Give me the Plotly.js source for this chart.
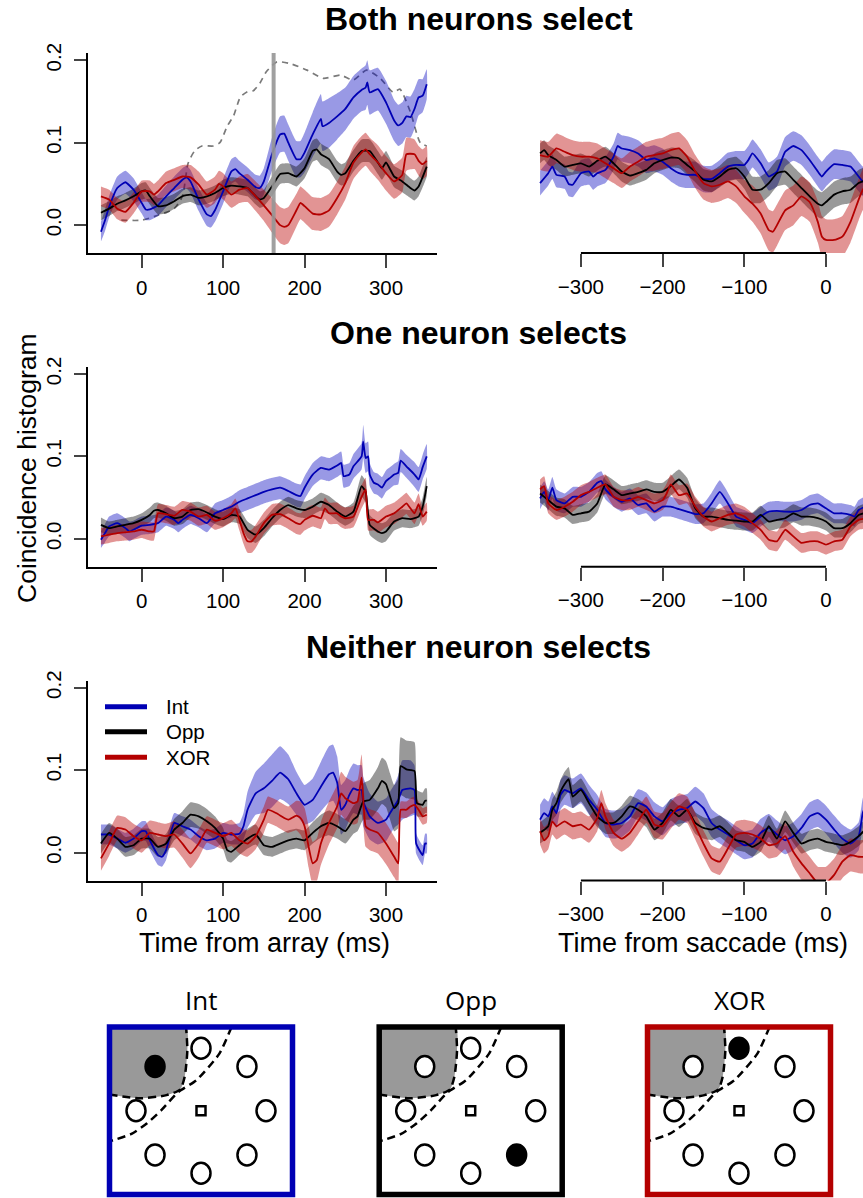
<!DOCTYPE html>
<html><head><meta charset="utf-8">
<script src="https://cdn.plot.ly/plotly-3.0.1.min.js"></script>
<style>html,body{margin:0;padding:0;background:#fff}</style>
</head><body><div id="chart" style="width:863px;height:1198px"></div>
<script>
// ---------- DATA: rows are [time ms, mean, s.e.] ----------
const bothArrInt = [[-50,-0.008,0.012],[-45,0.006,0.013],[-40,0.022,0.013],[-30,0.045,0.014],[-20,0.052,0.014],[-10,0.043,0.014],[0,0.027,0.013],[5,0.019,0.013],[10,0.019,0.013],[20,0.024,0.013],[30,0.035,0.013],[40,0.045,0.014],[50,0.055,0.014],[55,0.058,0.014],[60,0.053,0.014],[70,0.031,0.014],[80,0.013,0.014],[85,0.011,0.014],[90,0.018,0.014],[100,0.041,0.015],[110,0.065,0.015],[115,0.068,0.015],[120,0.063,0.015],[130,0.055,0.015],[140,0.046,0.015],[145,0.045,0.015],[150,0.053,0.016],[160,0.086,0.02],[170,0.110,0.022],[175,0.111,0.022],[180,0.100,0.022],[190,0.080,0.022],[195,0.080,0.022],[200,0.088,0.024],[210,0.110,0.027],[220,0.129,0.03],[222,0.120,0.03],[230,0.124,0.03],[240,0.132,0.028],[250,0.141,0.026],[260,0.155,0.026],[270,0.164,0.026],[275,0.167,0.027],[277,0.173,0.027],[280,0.161,0.027],[290,0.165,0.026],[300,0.149,0.026],[310,0.127,0.025],[315,0.121,0.025],[320,0.124,0.025],[325,0.132,0.025],[330,0.131,0.025],[335,0.141,0.024],[340,0.155,0.022],[345,0.157,0.02],[350,0.171,0.018]];
const bothArrOpp = [[-50,0.015,0.009],[-40,0.020,0.009],[-30,0.026,0.009],[-20,0.030,0.009],[-10,0.035,0.009],[0,0.041,0.01],[5,0.042,0.01],[10,0.035,0.01],[20,0.023,0.01],[30,0.024,0.01],[40,0.029,0.009],[50,0.035,0.009],[60,0.037,0.009],[70,0.033,0.009],[80,0.035,0.009],[90,0.039,0.009],[100,0.045,0.01],[110,0.048,0.01],[120,0.047,0.01],[130,0.045,0.01],[140,0.035,0.01],[145,0.031,0.01],[150,0.033,0.01],[160,0.047,0.012],[170,0.062,0.012],[180,0.063,0.012],[190,0.059,0.012],[200,0.069,0.012],[210,0.090,0.013],[215,0.092,0.013],[220,0.086,0.013],[230,0.080,0.013],[240,0.065,0.013],[245,0.061,0.013],[250,0.063,0.013],[260,0.078,0.013],[270,0.090,0.014],[280,0.090,0.014],[290,0.076,0.014],[295,0.069,0.014],[300,0.076,0.014],[310,0.059,0.013],[320,0.053,0.013],[330,0.045,0.012],[335,0.042,0.012],[340,0.047,0.012],[350,0.071,0.012]];
const bothArrXor = [[-50,0.035,0.012],[-40,0.031,0.012],[-30,0.020,0.013],[-20,0.016,0.013],[-10,0.027,0.013],[0,0.041,0.013],[10,0.041,0.013],[15,0.037,0.013],[20,0.041,0.013],[30,0.051,0.014],[40,0.055,0.014],[50,0.059,0.014],[60,0.058,0.015],[70,0.049,0.016],[80,0.037,0.016],[90,0.043,0.016],[95,0.050,0.016],[100,0.047,0.016],[110,0.037,0.016],[120,0.043,0.016],[130,0.045,0.017],[140,0.035,0.018],[150,0.024,0.019],[160,0.012,0.021],[170,0.000,0.022],[175,-0.002,0.022],[180,0.000,0.022],[190,0.018,0.02],[195,0.027,0.02],[200,0.023,0.02],[210,0.014,0.02],[220,0.013,0.02],[230,0.018,0.02],[240,0.033,0.02],[250,0.051,0.02],[260,0.076,0.02],[270,0.088,0.02],[275,0.092,0.02],[280,0.086,0.02],[290,0.076,0.021],[300,0.063,0.021],[310,0.053,0.021],[320,0.061,0.021],[325,0.086,0.02],[335,0.086,0.018],[340,0.078,0.018],[345,0.074,0.018],[350,0.078,0.018]];
// gray dashed reference curve, top-left panel: [time, value]
const bothArrRef = [[-25,0.006],[0,0.006],[20,0.012],[40,0.020],[50,0.035],[57,0.075],[65,0.090],[74,0.096],[88,0.096],[96,0.100],[105,0.120],[113,0.133],[121,0.155],[130,0.162],[137,0.163],[145,0.172],[153,0.186],[166,0.198],[182,0.196],[203,0.188],[223,0.178],[244,0.182],[260,0.176],[276,0.188],[293,0.178],[309,0.161],[317,0.165],[330,0.137],[342,0.100],[350,0.096]];
const markerTime = [162];

const bothSacInt = [[-350,0.051,0.015],[-340,0.063,0.015],[-335,0.071,0.015],[-330,0.061,0.015],[-320,0.059,0.015],[-315,0.050,0.015],[-310,0.049,0.015],[-300,0.063,0.016],[-290,0.065,0.016],[-285,0.059,0.016],[-280,0.063,0.016],[-270,0.067,0.016],[-260,0.083,0.016],[-255,0.096,0.016],[-250,0.093,0.016],[-240,0.091,0.016],[-230,0.087,0.016],[-220,0.079,0.016],[-210,0.081,0.016],[-200,0.077,0.016],[-190,0.069,0.016],[-180,0.063,0.016],[-170,0.061,0.016],[-160,0.061,0.016],[-150,0.056,0.016],[-140,0.056,0.016],[-130,0.063,0.016],[-120,0.071,0.017],[-110,0.073,0.017],[-100,0.073,0.017],[-95,0.079,0.017],[-90,0.087,0.017],[-80,0.075,0.017],[-70,0.059,0.017],[-60,0.065,0.018],[-50,0.089,0.018],[-40,0.096,0.018],[-30,0.091,0.018],[-20,0.079,0.018],[-10,0.065,0.018],[-5,0.059,0.018],[0,0.065,0.018],[10,0.074,0.018],[20,0.073,0.018],[30,0.071,0.018],[40,0.059,0.018],[45,0.053,0.018],[50,0.050,0.018]];
const bothSacOpp = [[-350,0.087,0.012],[-345,0.091,0.012],[-340,0.085,0.012],[-330,0.079,0.012],[-320,0.071,0.012],[-310,0.073,0.012],[-300,0.075,0.012],[-290,0.071,0.012],[-280,0.078,0.012],[-270,0.083,0.012],[-260,0.075,0.012],[-250,0.065,0.012],[-240,0.060,0.012],[-230,0.063,0.012],[-220,0.067,0.012],[-210,0.075,0.012],[-200,0.079,0.012],[-190,0.082,0.012],[-180,0.081,0.012],[-170,0.073,0.012],[-160,0.065,0.013],[-150,0.055,0.013],[-140,0.053,0.013],[-130,0.059,0.013],[-120,0.067,0.014],[-110,0.069,0.014],[-100,0.059,0.015],[-90,0.043,0.016],[-80,0.043,0.016],[-70,0.051,0.016],[-60,0.063,0.016],[-50,0.065,0.016],[-40,0.055,0.016],[-30,0.045,0.016],[-20,0.035,0.016],[-10,0.026,0.016],[-5,0.024,0.016],[0,0.028,0.016],[10,0.037,0.016],[20,0.041,0.016],[30,0.043,0.016],[40,0.051,0.016],[50,0.055,0.016]];
const bothSacXor = [[-350,0.085,0.018],[-340,0.083,0.018],[-330,0.093,0.018],[-320,0.089,0.018],[-310,0.085,0.018],[-300,0.083,0.018],[-290,0.083,0.018],[-280,0.081,0.018],[-270,0.075,0.018],[-260,0.069,0.018],[-250,0.063,0.018],[-240,0.071,0.018],[-230,0.077,0.018],[-220,0.083,0.018],[-210,0.085,0.019],[-200,0.087,0.019],[-190,0.091,0.02],[-180,0.093,0.02],[-170,0.083,0.02],[-160,0.065,0.02],[-150,0.051,0.02],[-140,0.047,0.02],[-130,0.049,0.02],[-120,0.053,0.02],[-110,0.047,0.02],[-100,0.035,0.02],[-90,0.026,0.022],[-80,0.014,0.024],[-70,-0.006,0.025],[-65,-0.008,0.025],[-60,0.000,0.025],[-50,0.018,0.024],[-40,0.024,0.024],[-30,0.035,0.024],[-20,0.028,0.024],[-10,0.004,0.025],[-5,-0.014,0.025],[0,-0.018,0.025],[10,-0.018,0.025],[20,-0.014,0.025],[30,0.004,0.025],[40,0.031,0.025],[45,0.043,0.025],[50,0.050,0.025]];

const oneArrInt = [[-50,-0.001,0.01],[-45,0.007,0.011],[-40,0.015,0.012],[-30,0.019,0.012],[-20,0.013,0.012],[-15,0.009,0.012],[-10,0.011,0.011],[0,0.016,0.011],[10,0.017,0.011],[20,0.019,0.011],[30,0.027,0.011],[40,0.023,0.011],[45,0.019,0.011],[50,0.023,0.011],[60,0.029,0.011],[70,0.025,0.011],[80,0.019,0.011],[90,0.031,0.012],[100,0.035,0.012],[110,0.039,0.013],[120,0.045,0.014],[130,0.049,0.014],[140,0.053,0.014],[150,0.057,0.014],[160,0.060,0.014],[170,0.062,0.014],[180,0.058,0.014],[190,0.053,0.014],[195,0.052,0.014],[200,0.062,0.014],[210,0.078,0.014],[220,0.086,0.014],[230,0.084,0.014],[240,0.089,0.014],[245,0.092,0.014],[248,0.076,0.014],[255,0.078,0.014],[260,0.088,0.015],[270,0.100,0.016],[272,0.118,0.02],[275,0.098,0.018],[278,0.100,0.018],[280,0.078,0.014],[285,0.068,0.013],[290,0.066,0.013],[295,0.062,0.013],[300,0.070,0.013],[305,0.074,0.013],[310,0.078,0.013],[315,0.080,0.014],[318,0.095,0.014],[325,0.088,0.014],[335,0.078,0.015],[340,0.072,0.015],[345,0.087,0.015],[350,0.100,0.015]];
const oneArrOpp = [[-50,0.017,0.009],[-40,0.013,0.008],[-30,0.015,0.008],[-20,0.017,0.008],[-10,0.019,0.008],[0,0.023,0.008],[10,0.029,0.009],[15,0.034,0.009],[20,0.035,0.009],[30,0.031,0.009],[40,0.025,0.009],[50,0.027,0.009],[60,0.035,0.009],[70,0.036,0.009],[80,0.032,0.009],[90,0.027,0.009],[100,0.024,0.009],[110,0.029,0.009],[120,0.027,0.009],[130,0.011,0.01],[140,0.005,0.01],[150,0.013,0.01],[160,0.025,0.01],[170,0.035,0.01],[180,0.041,0.01],[190,0.037,0.01],[200,0.035,0.01],[210,0.039,0.01],[220,0.045,0.011],[230,0.041,0.011],[240,0.033,0.011],[250,0.027,0.011],[260,0.033,0.011],[270,0.064,0.013],[275,0.057,0.013],[280,0.017,0.012],[290,0.009,0.012],[295,0.007,0.012],[300,0.009,0.012],[310,0.021,0.011],[320,0.025,0.011],[330,0.024,0.011],[340,0.027,0.011],[345,0.039,0.011],[350,0.064,0.011]];
const oneArrXor = [[-50,0.003,0.01],[-40,0.005,0.01],[-30,0.007,0.01],[-20,0.008,0.01],[-10,0.009,0.01],[0,0.011,0.01],[10,0.009,0.011],[15,0.009,0.011],[20,0.031,0.011],[30,0.030,0.011],[40,0.028,0.011],[50,0.035,0.011],[60,0.033,0.011],[70,0.027,0.011],[80,0.029,0.011],[90,0.022,0.011],[100,0.025,0.011],[110,0.031,0.011],[115,0.037,0.012],[120,0.023,0.013],[125,0.007,0.013],[130,-0.003,0.014],[135,-0.003,0.014],[140,0.003,0.014],[150,0.019,0.013],[160,0.029,0.013],[170,0.030,0.013],[180,0.025,0.013],[190,0.019,0.013],[195,0.018,0.013],[200,0.023,0.013],[210,0.028,0.013],[220,0.025,0.013],[225,0.037,0.013],[230,0.031,0.013],[240,0.031,0.013],[245,0.027,0.013],[250,0.025,0.013],[260,0.027,0.013],[270,0.051,0.014],[275,0.060,0.014],[278,0.023,0.013],[285,0.023,0.013],[290,0.020,0.013],[300,0.027,0.013],[310,0.031,0.013],[320,0.039,0.013],[325,0.043,0.013],[330,0.037,0.013],[335,0.031,0.013],[340,0.042,0.013],[345,0.027,0.011],[350,0.033,0.011]];

const oneSacInt = [[-350,0.049,0.013],[-345,0.057,0.013],[-340,0.047,0.013],[-335,0.062,0.013],[-330,0.047,0.013],[-320,0.043,0.012],[-310,0.051,0.012],[-300,0.051,0.012],[-290,0.057,0.012],[-280,0.068,0.012],[-275,0.070,0.012],[-270,0.060,0.012],[-260,0.051,0.012],[-250,0.045,0.012],[-240,0.049,0.012],[-230,0.041,0.012],[-220,0.043,0.012],[-210,0.033,0.012],[-200,0.039,0.012],[-190,0.039,0.012],[-180,0.036,0.012],[-170,0.033,0.012],[-160,0.030,0.012],[-150,0.031,0.012],[-140,0.043,0.013],[-130,0.057,0.014],[-120,0.043,0.013],[-110,0.027,0.012],[-100,0.023,0.012],[-90,0.019,0.012],[-80,0.027,0.012],[-70,0.033,0.012],[-60,0.034,0.012],[-50,0.033,0.012],[-40,0.033,0.012],[-30,0.035,0.012],[-20,0.041,0.012],[-10,0.043,0.012],[0,0.037,0.012],[10,0.031,0.012],[20,0.031,0.012],[30,0.029,0.012],[35,0.027,0.012],[40,0.035,0.012],[50,0.040,0.012]];
const oneSacOpp = [[-350,0.055,0.011],[-340,0.047,0.011],[-330,0.039,0.011],[-320,0.037,0.011],[-310,0.029,0.011],[-300,0.031,0.011],[-290,0.033,0.011],[-280,0.043,0.011],[-270,0.066,0.011],[-260,0.060,0.011],[-250,0.053,0.011],[-240,0.055,0.011],[-230,0.057,0.011],[-220,0.060,0.011],[-210,0.057,0.011],[-200,0.057,0.011],[-190,0.064,0.012],[-180,0.072,0.012],[-170,0.062,0.012],[-160,0.037,0.012],[-150,0.027,0.011],[-140,0.027,0.011],[-130,0.025,0.011],[-120,0.023,0.011],[-110,0.022,0.011],[-100,0.021,0.011],[-90,0.021,0.011],[-80,0.029,0.011],[-70,0.021,0.011],[-60,0.023,0.011],[-50,0.025,0.011],[-40,0.031,0.011],[-30,0.027,0.011],[-20,0.027,0.011],[-10,0.025,0.011],[0,0.021,0.011],[10,0.013,0.011],[20,0.013,0.011],[30,0.019,0.011],[40,0.029,0.011],[50,0.032,0.011]];
const oneSacXor = [[-350,0.060,0.012],[-345,0.064,0.012],[-340,0.043,0.012],[-330,0.035,0.012],[-320,0.039,0.012],[-310,0.045,0.012],[-300,0.053,0.012],[-290,0.057,0.012],[-280,0.062,0.012],[-270,0.066,0.012],[-260,0.051,0.012],[-250,0.047,0.012],[-240,0.047,0.012],[-230,0.051,0.012],[-220,0.047,0.012],[-210,0.043,0.012],[-200,0.047,0.012],[-195,0.055,0.012],[-190,0.066,0.012],[-180,0.053,0.012],[-170,0.055,0.012],[-160,0.039,0.012],[-150,0.027,0.012],[-140,0.021,0.012],[-130,0.025,0.012],[-120,0.029,0.012],[-110,0.031,0.012],[-100,0.027,0.012],[-90,0.019,0.012],[-80,0.011,0.012],[-70,-0.001,0.012],[-60,-0.003,0.012],[-50,0.011,0.012],[-40,0.003,0.012],[-30,-0.005,0.012],[-20,-0.003,0.012],[-10,-0.003,0.012],[0,-0.007,0.012],[10,-0.003,0.012],[20,-0.001,0.012],[30,0.015,0.012],[40,0.023,0.012],[50,0.025,0.012]];

const neitherArrInt = [[-50,0.022,0.012],[-40,0.022,0.012],[-30,0.017,0.012],[-20,0.012,0.012],[-10,0.017,0.012],[0,0.026,0.012],[5,0.026,0.012],[10,0.015,0.012],[20,-0.003,0.012],[25,-0.005,0.012],[30,0.003,0.012],[40,0.036,0.012],[50,0.032,0.012],[60,0.028,0.012],[70,0.020,0.012],[80,0.015,0.012],[90,0.017,0.012],[100,0.024,0.012],[110,0.022,0.012],[120,0.023,0.013],[125,0.032,0.016],[130,0.052,0.022],[140,0.072,0.026],[150,0.078,0.03],[160,0.087,0.032],[170,0.097,0.032],[180,0.089,0.03],[190,0.072,0.026],[200,0.058,0.024],[210,0.064,0.026],[220,0.080,0.03],[230,0.095,0.034],[235,0.097,0.034],[240,0.085,0.032],[245,0.052,0.03],[250,0.058,0.03],[255,0.070,0.03],[260,0.078,0.03],[265,0.076,0.03],[270,0.076,0.03],[272,0.062,0.03],[280,0.044,0.028],[290,0.036,0.026],[300,0.040,0.026],[305,0.048,0.026],[310,0.056,0.026],[315,0.064,0.03],[320,0.076,0.036],[330,0.078,0.034],[335,0.076,0.03],[337,0.011,0.012],[345,-0.003,0.012],[348,0.011,0.012],[350,0.011,0.012]];
const neitherArrOpp = [[-50,0.011,0.012],[-40,0.024,0.012],[-30,0.017,0.012],[-20,0.007,0.012],[-10,0.009,0.012],[0,0.017,0.012],[10,0.017,0.012],[20,0.007,0.012],[30,0.011,0.012],[40,0.028,0.013],[50,0.036,0.014],[60,0.046,0.015],[70,0.044,0.015],[80,0.038,0.015],[90,0.030,0.014],[100,0.017,0.013],[105,0.003,0.013],[110,0.001,0.013],[120,0.009,0.012],[130,0.017,0.012],[140,0.022,0.012],[150,0.009,0.012],[160,0.007,0.012],[170,0.011,0.012],[180,0.015,0.012],[190,0.017,0.012],[200,0.015,0.012],[210,0.024,0.013],[220,0.032,0.014],[230,0.036,0.015],[240,0.032,0.015],[250,0.026,0.015],[260,0.040,0.017],[265,0.044,0.018],[272,0.062,0.022],[280,0.064,0.024],[290,0.078,0.026],[295,0.087,0.028],[300,0.083,0.028],[305,0.068,0.028],[310,0.054,0.028],[315,0.060,0.03],[318,0.105,0.035],[325,0.101,0.035],[335,0.099,0.035],[338,0.060,0.016],[345,0.058,0.015],[348,0.063,0.015],[350,0.063,0.015]];
const neitherArrXor = [[-50,-0.007,0.015],[-40,0.011,0.015],[-30,0.030,0.015],[-20,0.028,0.015],[-10,0.020,0.015],[0,0.015,0.015],[10,0.024,0.015],[20,0.022,0.015],[30,0.020,0.015],[40,0.022,0.016],[50,0.011,0.017],[60,-0.001,0.018],[70,0.011,0.017],[80,0.028,0.016],[90,0.024,0.016],[100,0.020,0.016],[110,0.024,0.016],[120,0.015,0.016],[130,0.011,0.016],[140,0.020,0.016],[150,0.040,0.016],[155,0.052,0.016],[165,0.048,0.016],[175,0.042,0.016],[180,0.040,0.016],[190,0.045,0.018],[195,0.042,0.02],[200,0.032,0.022],[205,0.007,0.025],[210,-0.013,0.026],[215,-0.009,0.026],[220,0.011,0.026],[230,0.036,0.026],[240,0.056,0.026],[245,0.072,0.026],[250,0.066,0.026],[260,0.060,0.026],[265,0.062,0.026],[270,0.091,0.028],[275,0.032,0.025],[280,0.028,0.025],[290,0.024,0.025],[300,0.011,0.025],[310,-0.005,0.025],[315,-0.013,0.025],[318,0.052,0.01],[325,0.052,0.01],[330,0.056,0.01],[335,0.058,0.01],[340,0.052,0.01],[345,0.044,0.01],[350,0.046,0.01]];

const neitherSacInt = [[-350,0.040,0.018],[-345,0.048,0.018],[-340,0.044,0.018],[-335,0.056,0.018],[-330,0.048,0.018],[-325,0.070,0.018],[-320,0.076,0.018],[-310,0.072,0.018],[-300,0.078,0.018],[-290,0.064,0.018],[-280,0.052,0.018],[-270,0.036,0.017],[-260,0.034,0.017],[-250,0.036,0.017],[-240,0.044,0.017],[-230,0.060,0.017],[-220,0.056,0.017],[-210,0.044,0.017],[-200,0.038,0.017],[-190,0.048,0.017],[-180,0.052,0.017],[-170,0.054,0.017],[-160,0.062,0.018],[-150,0.054,0.018],[-140,0.036,0.017],[-130,0.028,0.017],[-120,0.022,0.017],[-110,0.015,0.017],[-100,0.009,0.017],[-90,0.011,0.017],[-80,0.024,0.017],[-70,0.030,0.017],[-60,0.022,0.017],[-50,0.015,0.017],[-40,0.020,0.017],[-30,0.030,0.017],[-20,0.044,0.017],[-10,0.048,0.017],[0,0.040,0.017],[10,0.028,0.017],[20,0.017,0.017],[30,0.011,0.017],[40,0.020,0.017],[45,0.048,0.018],[50,0.060,0.018]];
const neitherSacOpp = [[-350,0.024,0.013],[-340,0.032,0.013],[-335,0.052,0.013],[-330,0.060,0.014],[-325,0.074,0.014],[-320,0.083,0.015],[-315,0.089,0.015],[-310,0.068,0.014],[-300,0.076,0.014],[-290,0.060,0.013],[-280,0.044,0.013],[-270,0.036,0.013],[-260,0.036,0.013],[-250,0.044,0.013],[-240,0.056,0.013],[-230,0.052,0.013],[-220,0.044,0.013],[-210,0.028,0.013],[-200,0.036,0.013],[-190,0.052,0.013],[-180,0.044,0.013],[-170,0.052,0.013],[-160,0.036,0.013],[-150,0.030,0.013],[-140,0.028,0.013],[-130,0.032,0.013],[-120,0.024,0.013],[-110,0.015,0.012],[-100,0.013,0.012],[-90,0.007,0.012],[-80,0.013,0.012],[-70,0.032,0.013],[-60,0.017,0.012],[-50,0.038,0.013],[-40,0.024,0.012],[-30,0.011,0.012],[-20,0.015,0.012],[-10,0.017,0.012],[0,0.013,0.012],[10,0.011,0.012],[20,0.009,0.012],[30,0.013,0.012],[40,0.020,0.012],[50,0.030,0.012]];
const neitherSacXor = [[-350,0.026,0.016],[-345,0.015,0.016],[-340,0.020,0.016],[-335,0.038,0.016],[-330,0.032,0.016],[-320,0.038,0.016],[-310,0.032,0.016],[-300,0.034,0.016],[-290,0.028,0.016],[-280,0.042,0.016],[-275,0.060,0.016],[-270,0.044,0.016],[-260,0.024,0.016],[-250,0.017,0.016],[-240,0.024,0.016],[-230,0.038,0.016],[-220,0.052,0.016],[-210,0.034,0.016],[-200,0.032,0.016],[-190,0.045,0.016],[-180,0.056,0.016],[-170,0.052,0.016],[-160,0.032,0.016],[-150,0.011,0.016],[-140,-0.007,0.016],[-130,-0.011,0.016],[-120,0.005,0.016],[-110,0.022,0.016],[-100,0.024,0.016],[-90,0.022,0.016],[-80,0.017,0.016],[-70,0.009,0.016],[-60,0.011,0.016],[-50,0.020,0.016],[-40,0.001,0.018],[-30,-0.013,0.02],[-20,-0.025,0.02],[-10,-0.037,0.02],[0,-0.037,0.02],[10,-0.027,0.02],[20,-0.011,0.02],[30,-0.003,0.02],[40,-0.005,0.02],[50,-0.005,0.02]];

const panelTitles = ['Both neurons select','One neuron selects','Neither neuron selects'];
const conditionNames = ['Int','Opp','XOR'];
const arrayTicks = [0,100,200,300];
const saccadeTicks = [-300,-200,-100,0];
const saccadeTickText = ['\u2212300','\u2212200','\u2212100','0'];
const yTicks = [0,0.1,0.2];
const yTickText = ['0.0','0.1','0.2'];

// schematic: 8 stimulus directions (deg), target direction per condition
const stimAngles = [90,45,0,-45,-90,-135,180,135];
const targetAngle = [135,-45,90];
const rfBoundary = [[-1.41,0.26],[-0.94,0.20],[-0.53,0.25],[-0.32,0.34],[-0.25,0.55],[-0.21,0.97],[-0.23,1.34]];
const outerArc = [[0.47,1.34],[0.28,0.91],[-0.07,0.49],[-0.35,0.30],[-0.61,0.01],[-0.83,-0.20],[-1.07,-0.37],[-1.41,-0.49]];

// ---------- STYLE / LAYOUT ----------
const W = 863, H = 1198;
const fx = p => p / W;
const fy = p => 1 - p / H;
const lineCol = ['#0000b4', '#000000', '#b40000'];
const bandCol = ['rgba(0,0,190,0.40)', 'rgba(0,0,0,0.40)', 'rgba(185,0,0,0.42)'];
const FONT = 'Liberation Sans, Arial, Helvetica, sans-serif';
const SMOOTH = 0.45;

const rows = [
  {arr: [bothArrInt, bothArrOpp, bothArrXor], sac: [bothSacInt, bothSacOpp, bothSacXor], top: 53},
  {arr: [oneArrInt, oneArrOpp, oneArrXor], sac: [oneSacInt, oneSacOpp, oneSacXor], top: 366.7},
  {arr: [neitherArrInt, neitherArrOpp, neitherArrXor], sac: [neitherSacInt, neitherSacOpp, neitherSacXor], top: 680.5}
];
const rowH = 200;

const traces = [];
const shapes = [];
const annotations = [];
const layout = {
  width: W, height: H, margin: {l:0, r:0, t:0, b:0},
  paper_bgcolor: '#fff', plot_bgcolor: 'rgba(0,0,0,0)',
  showlegend: false, font: {family: FONT, color: '#000'}
};

function addSeries(list, xa, ya) {
  list.forEach((s, i) => {
    const t = s.map(r => r[0]);
    const up = s.map(r => r[1] + r[2]);
    const lo = s.map(r => r[1] - r[2]);
    traces.push({x: t.concat(t.slice().reverse()), y: up.concat(lo.slice().reverse()),
      xaxis: xa, yaxis: ya, mode: 'lines', fill: 'toself', fillcolor: bandCol[i],
      line: {width: 0, color: 'rgba(0,0,0,0)', shape: 'spline', smoothing: SMOOTH}, hoverinfo: 'skip'});
  });
  list.forEach((s, i) => {
    traces.push({x: s.map(r => r[0]), y: s.map(r => r[1]), xaxis: xa, yaxis: ya,
      mode: 'lines', line: {color: lineCol[i], width: 1.8, shape: 'spline', smoothing: SMOOTH}, hoverinfo: 'skip'});
  });
}

const tickFont = {family: FONT, size: 20.5, color: '#000'};
rows.forEach((row, r) => {
  const nL = 2 * r + 1, nR = 2 * r + 2;
  const xL = nL === 1 ? 'x' : 'x' + nL, yL = nL === 1 ? 'y' : 'y' + nL;
  const xR = 'x' + nR, yR = 'y' + nR;
  const dom = [fy(row.top + rowH), fy(row.top)];
  const yr = [-0.0338, 0.2088];
  layout['xaxis' + (nL === 1 ? '' : nL)] = {domain: [fx(88), fx(437)], range: [-65.9, 362.6], anchor: yL,
    tickvals: arrayTicks, ticktext: arrayTicks.map(String), ticks: 'outside', ticklen: 13, tickwidth: 2,
    showline: true, linewidth: 2, linecolor: '#000', showgrid: false, zeroline: false, tickfont: tickFont,
    ticklabelstandoff: 2};
  layout['yaxis' + (nL === 1 ? '' : nL)] = {domain: dom, range: yr, anchor: xL,
    tickvals: yTicks, ticktext: yTickText, tickangle: -90, ticks: 'outside', ticklen: 12, tickwidth: 2,
    showline: true, linewidth: 2, linecolor: '#000', showgrid: false, zeroline: false, tickfont: tickFont,
    ticklabelstandoff: 5};
  layout['xaxis' + nR] = {domain: [fx(527), 1], range: [-366, 45.3], anchor: yR,
    tickvals: saccadeTicks, ticktext: saccadeTickText, ticks: 'outside', ticklen: 13, tickwidth: 2,
    showline: false, showgrid: false, zeroline: false, tickfont: tickFont, ticklabelstandoff: 2};
  layout['yaxis' + nR] = {domain: dom, range: yr, anchor: xR, visible: false};
  shapes.push({type: 'line', xref: xR, yref: yR + ' domain', x0: saccadeTicks[0], x1: saccadeTicks[saccadeTicks.length - 1],
    y0: 0, y1: 0, line: {color: '#000', width: 2}});
  if (r === 0) {
    traces.push({x: bothArrRef.map(p => p[0]), y: bothArrRef.map(p => p[1]), xaxis: xL, yaxis: yL,
      mode: 'lines', line: {color: '#7a7a7a', width: 1.7, dash: '6px,5px', shape: 'spline', smoothing: 0.6}, hoverinfo: 'skip'});
  }
  addSeries(row.arr, xL, yL);
  addSeries(row.sac, xR, yR);
  if (r === 0) {
    markerTime.forEach(m => shapes.push({type: 'line', xref: xL, yref: yL + ' domain', x0: m, x1: m, y0: 0, y1: 1,
      line: {color: 'rgba(150,150,150,0.9)', width: 4}, layer: 'above'}));
  }
  annotations.push({text: '<b>' + panelTitles[r] + '</b>', xref: 'paper', yref: 'paper', x: fx(479), y: fy(row.top - 34),
    xanchor: 'center', yanchor: 'middle', showarrow: false, font: {family: FONT, size: 32, color: '#000'}});
});

// axis titles
annotations.push({text: 'Coincidence histogram', xref: 'paper', yref: 'paper', x: fx(27), y: fy(468), textangle: -90,
  xanchor: 'center', yanchor: 'middle', showarrow: false, font: {family: FONT, size: 26.5, color: '#000'}});
annotations.push({text: 'Time from array (ms)', xref: 'paper', yref: 'paper', x: fx(264), y: fy(943),
  xanchor: 'center', yanchor: 'middle', showarrow: false, font: {family: FONT, size: 27, color: '#000'}});
annotations.push({text: 'Time from saccade (ms)', xref: 'paper', yref: 'paper', x: fx(703), y: fy(943),
  xanchor: 'center', yanchor: 'middle', showarrow: false, font: {family: FONT, size: 27, color: '#000'}});

// legend (third row, left panel)
const legY = [706.7, 731.7, 757.3];
conditionNames.forEach((c, i) => {
  shapes.push({type: 'line', xref: 'paper', yref: 'paper', x0: fx(105), x1: fx(147), y0: fy(legY[i]), y1: fy(legY[i]),
    line: {color: lineCol[i], width: 5}});
  annotations.push({text: c, xref: 'paper', yref: 'paper', x: fx(164), y: fy(legY[i]), xanchor: 'left', yanchor: 'middle',
    showarrow: false, font: {family: FONT, size: 20.5, color: '#000'}});
});

// schematic diagrams
const boxCenters = [201, 470.7, 739];
const boxTop = 1027, boxBottom = 1194.5, boxHalfW = 91.5;
const ux = 65, uy = 62.5; // px per ring unit
conditionNames.forEach((c, i) => {
  const n = 7 + i, xa = 'x' + n, ya = 'y' + n;
  const cx = boxCenters[i];
  layout['xaxis' + n] = {domain: [fx(cx - boxHalfW), fx(cx + boxHalfW)], range: [-boxHalfW / ux, boxHalfW / ux],
    anchor: ya, visible: false, fixedrange: true};
  const hh = (boxBottom - boxTop) / 2 / uy;
  layout['yaxis' + n] = {domain: [fy(boxBottom), fy(boxTop)], range: [-hh, hh], anchor: xa, visible: false, fixedrange: true};
  const poly = rfBoundary.concat([[-boxHalfW / ux, hh], [-boxHalfW / ux, rfBoundary[0][1]]]);
  traces.push({x: poly.map(p => p[0]), y: poly.map(p => p[1]), xaxis: xa, yaxis: ya, mode: 'lines', fill: 'toself',
    fillcolor: '#999999', line: {width: 0, shape: 'spline', smoothing: 0.6}, hoverinfo: 'skip'});
  traces.push({x: rfBoundary.map(p => p[0]), y: rfBoundary.map(p => p[1]), xaxis: xa, yaxis: ya, mode: 'lines',
    line: {color: '#000', width: 2.5, dash: '8px,5px', shape: 'spline', smoothing: 0.6}, hoverinfo: 'skip'});
  traces.push({x: outerArc.map(p => p[0]), y: outerArc.map(p => p[1]), xaxis: xa, yaxis: ya, mode: 'lines',
    line: {color: '#000', width: 2.5, dash: '8px,5px', shape: 'spline', smoothing: 0.6}, hoverinfo: 'skip'});
  const rx = 9.5 / ux, ry = 10.5 / uy;
  stimAngles.forEach(a => {
    const px = Math.cos(a * Math.PI / 180), py = Math.sin(a * Math.PI / 180);
    const isT = a === targetAngle[i];
    shapes.push({type: 'circle', xref: xa, yref: ya, x0: px - rx, x1: px + rx, y0: py - ry, y1: py + ry,
      fillcolor: isT ? '#000' : '#fff', line: {color: '#000', width: 2.5}});
  });
  const sx = 4.5 / ux, sy = 4.5 / uy;
  shapes.push({type: 'rect', xref: xa, yref: ya, x0: -sx, x1: sx, y0: -sy, y1: sy, fillcolor: '#fff',
    line: {color: '#000', width: 2.5}});
  shapes.push({type: 'rect', xref: xa + ' domain', yref: ya + ' domain', x0: 0, x1: 1, y0: 0, y1: 1,
    line: {color: lineCol[i], width: 5.5}});
  annotations.push({text: c, xref: 'paper', yref: 'paper', x: fx(cx), y: fy(1000), xanchor: 'center', yanchor: 'middle',
    showarrow: false, font: {family: 'Open Sans, DejaVu Sans, sans-serif', size: 26, color: '#000'}});
});

layout.shapes = shapes;
layout.annotations = annotations;
Plotly.newPlot('chart', traces, layout, {staticPlot: true, displayModeBar: false});
</script>
</body></html>
